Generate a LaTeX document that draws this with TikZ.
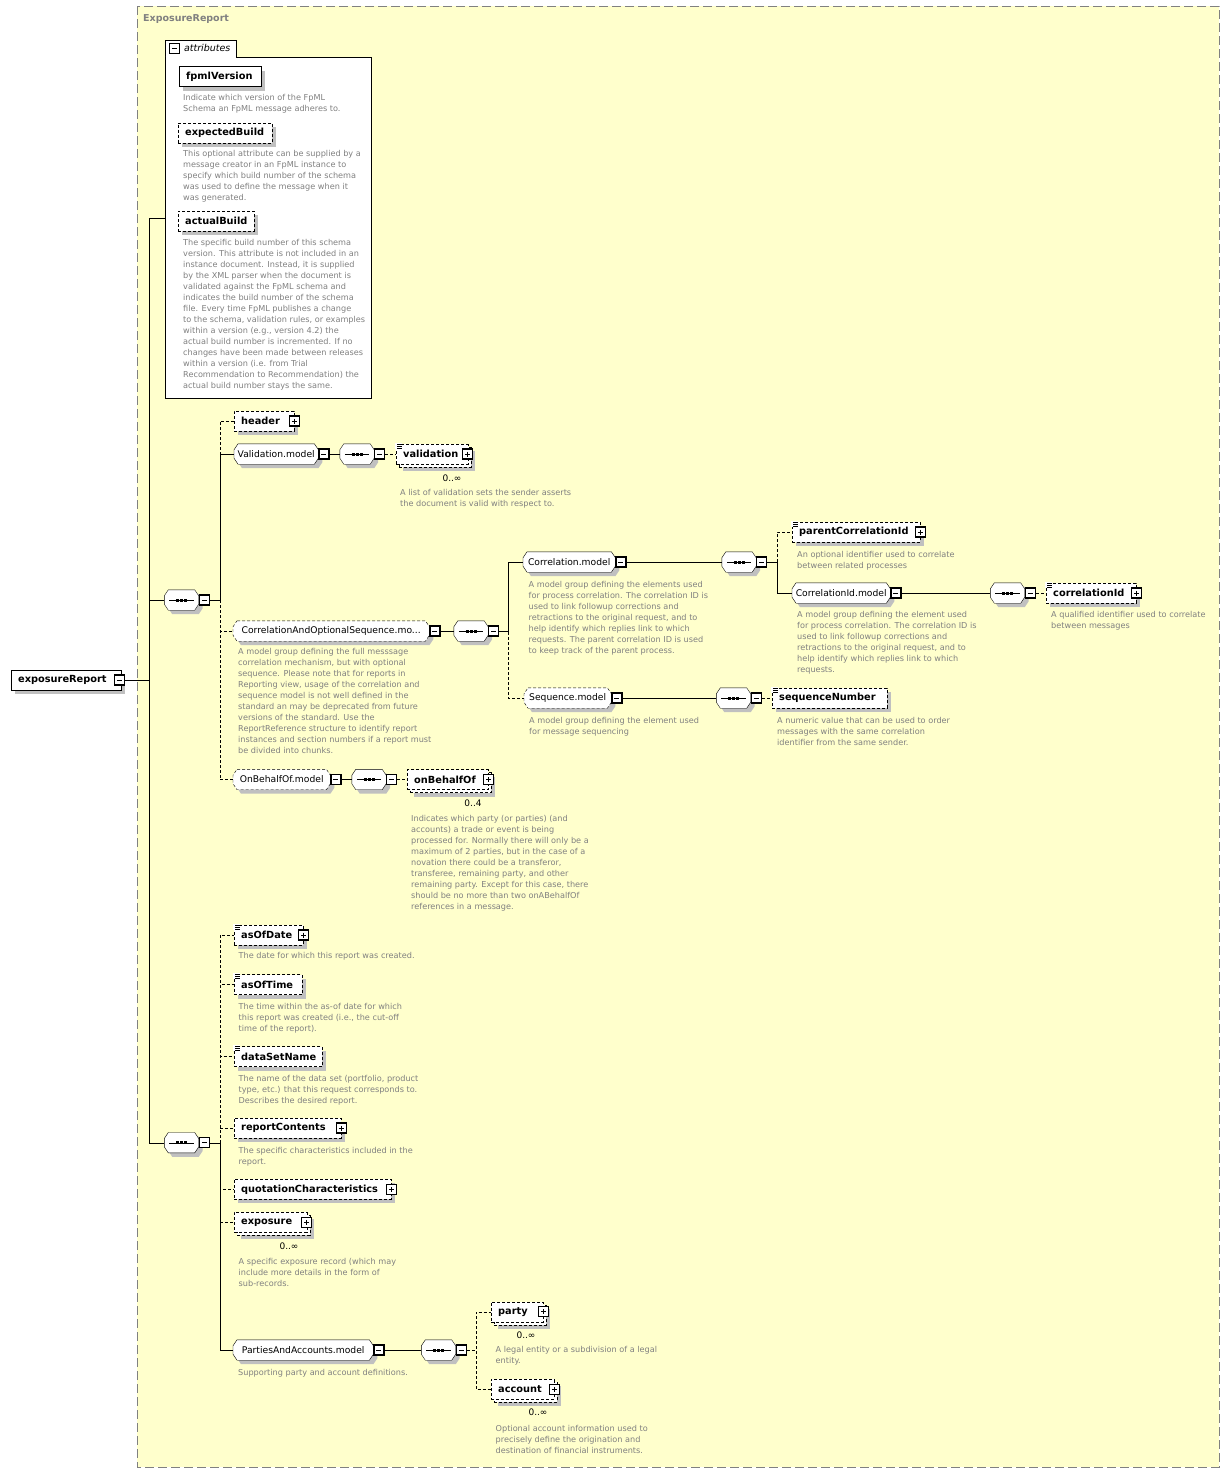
\documentclass[tikz,border=0pt]{standalone}
\usepackage{fontspec}
\setmainfont{DejaVu Sans}
\usepackage{tikz}
\usetikzlibrary{shadows,positioning}

\definecolor{bgyellow}{RGB}{255,255,204}
\definecolor{descgray}{RGB}{128,128,128}
\definecolor{shadowgray}{RGB}{192,192,192}

\pgfdeclarelayer{back}
\pgfdeclarelayer{bg}
\pgfsetlayers{back,bg,main}

\newcommand\descfont{\fontsize{8.15}{11}\selectfont}
\newcommand\lblfont{\fontsize{9.8}{12}\selectfont\bfseries}
\newcommand\grpfont{\fontsize{9.2}{12}\selectfont}

% chamfered outline round a model group or a sequence node
\newcommand\octopath[1]{([xshift=4pt]#1.north west) -- ([xshift=-4pt]#1.north east) -- ([yshift=-6pt]#1.north east) -- ([yshift=6pt]#1.south east) -- ([xshift=-4pt]#1.south east) -- ([xshift=4pt]#1.south west) -- ([yshift=6pt]#1.south west) -- ([yshift=-6pt]#1.north west) -- cycle}
\newcommand\octo[2][]{%
  \begin{pgfonlayer}{bg}
    \fill[shadowgray, transform canvas={xshift=4pt, yshift=-4pt}] \octopath{#2};
    \draw[fill=white, #1] \octopath{#2};
  \end{pgfonlayer}}
% the sequence mark
\newcommand\seqmark[1]{%
  \draw ([xshift=5pt]#1.west) -- ([xshift=-5pt]#1.east);
  \foreach \dx in {-4,0,4}
    \fill ([xshift=\dx pt-1.5pt, yshift=1.5pt]#1.center) rectangle ++(3,3);}
% small list icon in the top left corner of an element
\newcommand\listicon[1]{%
  \fill[white] ([xshift=-1pt,yshift=1pt]#1.north west) rectangle ++(7,6);
  \foreach \dy in {0.5,2.5,4.5}
    \draw[line width=.8pt] ([xshift=1pt,yshift=-\dy pt]#1.north west) -- ++(5,0);}

\tikzset{
  boxshadow/.style={general shadow={fill=shadowgray, shadow xshift=4pt, shadow yshift=-4pt}},
  box/.style={draw, fill=white, anchor=west, minimum height=20pt, inner xsep=7pt, inner ysep=0pt, align=left, font=\lblfont},
  elem/.style={box, boxshadow},
  optelem/.style={elem, dash pattern=on 3pt off 2pt},
  multielem/.style={box, dash pattern=on 3pt off 2pt,
    general shadow={fill=shadowgray, shadow xshift=7pt, shadow yshift=-7pt},
    general shadow={draw, fill=white, dash pattern=on 3pt off 2pt, shadow xshift=3pt, shadow yshift=-3pt}},
  grp/.style={anchor=west, minimum height=20pt, inner xsep=3pt, inner ysep=0pt, font=\grpfont},
  seqbox/.style={minimum width=34pt, minimum height=20pt, inner sep=0pt},
  btn/.style={draw, fill=white, line width=1.1pt, minimum size=10pt, inner sep=0pt},
  plusbtn/.style={btn, path picture={\draw[line width=.9pt] ([xshift=2.5pt]path picture bounding box.west) -- ([xshift=-2.5pt]path picture bounding box.east) ([yshift=-2.5pt]path picture bounding box.north) -- ([yshift=2.5pt]path picture bounding box.south);}},
  minusbtn/.style={btn, path picture={\draw[line width=.9pt] ([xshift=2.5pt]path picture bounding box.west) -- ([xshift=-2.5pt]path picture bounding box.east);}},
  descr/.style={anchor=north west, inner sep=0pt, align=left, font=\descfont, text=descgray},
  card/.style={font=\fontsize{9}{10}\selectfont, inner sep=0pt},
  optline/.style={dash pattern=on 3pt off 2pt},
}

\begin{document}
\begin{tikzpicture}[x=1pt, y=-1pt, line width=0.9pt]
	\useasboundingbox (0,0) rectangle (1230,1473);
	% frame of the type
	\begin{pgfonlayer}{back}
		\draw[descgray, dash pattern=on 9pt off 4pt, fill=bgyellow] (137,6) rectangle (1219,1467);
	\end{pgfonlayer}
	\node[anchor=west, inner sep=0pt, font=\fontsize{9.5}{11}\selectfont\bfseries, text=descgray] (title) at (143,19) {ExposureReport};

	% root element
	\node[elem, text width=96pt] (root) at (11,680) {exposureReport};
	\node[minusbtn] (rootb) at ([xshift=-2pt]root.east) {};

	% attributes
	\node[draw, fill=white, anchor=north west, minimum width=206pt, minimum height=341pt, inner sep=0pt] (attrbox) at (165,57) {};
	\node[draw, fill=white, anchor=south west, minimum width=71pt, minimum height=17pt, inner sep=0pt] (attrtab) at (attrbox.north west) {};
	\draw[white, line width=1.2pt] ([xshift=.6pt]attrtab.south west) -- ([xshift=-.6pt]attrtab.south east);
	\node[minusbtn, anchor=west, line width=.8pt] (attrb) at ([xshift=4pt]attrtab.west) {};
	\node[anchor=west, inner sep=0pt, font=\fontsize{9.5}{11}\selectfont\itshape] (attrlbl) at ([xshift=4pt]attrb.east) {attributes};

	\node[elem, text width=68pt] (fpmlversion) at (179,76.5) {fpmlVersion};
	\node[descr] (fpmldesc) at (183,94.5) {Indicate which version of the FpML\\Schema an FpML message adheres to.};
	\node[optelem, text width=80pt] (expbuild) at (178,132.7) {expectedBuild};
	\node[descr] (expbuilddesc) at (183,150.5) {This optional attribute can be supplied by a\\message creator in an FpML instance to\\specify which build number of the schema\\was used to define the message when it\\was generated.};
	\node[optelem, text width=62pt] (actbuild) at (178,221) {actualBuild};
	\node[descr] (actbuilddesc) at (183,239.5) {The specific build number of this schema\\version. This attribute is not included in an\\instance document. Instead, it is supplied\\by the XML parser when the document is\\validated against the FpML schema and\\indicates the build number of the schema\\file. Every time FpML publishes a change\\to the schema, validation rules, or examples\\within a version (e.g., version 4.2) the\\actual build number is incremented. If no\\changes have been made between releases\\within a version (i.e. from Trial\\Recommendation to Recommendation) the\\actual build number stays the same.};

	% first sequence
	\node[seqbox] (s1) at (181.5,600) {};
	\octo{s1} \seqmark{s1}
	\node[minusbtn, anchor=west] (s1b) at (s1.east) {};

	\node[optelem, text width=46pt] (header) at (234,421) {header};
	\node[plusbtn] (headerb) at (header.east) {};

	\node[grp, minimum width=84pt] (valm) at (234,454) {Validation.model};
	\octo{valm}
	\node[minusbtn, anchor=west] (valmb) at (valm.east) {};
	\node[seqbox] (sv) at (357,454) {};
	\octo{sv} \seqmark{sv}
	\node[minusbtn, anchor=west] (svb) at (sv.east) {};
	\node[multielem, text width=57.5pt] (validation) at (396,454) {validation};
	\node[plusbtn] (validationb) at (validation.east) {};
	\listicon{validation}
	\node[card] (validcard) at (452,478) {0..∞};
	\node[descr] (validdesc) at (400,489.5) {A list of validation sets the sender asserts\\the document is valid with respect to.};

	\node[grp, minimum width=196pt] (coseq) at (233,631) {CorrelationAndOptionalSequence.mo...};
	\octo[dash pattern=on 3pt off 2pt]{coseq}
	\node[minusbtn, anchor=west] (coseqb) at (coseq.east) {};
	\node[descr] (coseqdesc) at (238,648.5) {A model group defining the full messsage\\correlation mechanism, but with optional\\sequence. Please note that for reports in\\Reporting view, usage of the correlation and\\sequence model is not well defined in the\\standard an may be deprecated from future\\versions of the standard. Use the\\ReportReference structure to identify report\\instances and section numbers if a report must\\be divided into chunks.};
	\node[seqbox] (sc) at (471,631) {};
	\octo{sc} \seqmark{sc}
	\node[minusbtn, anchor=west] (scb) at (sc.east) {};

	% correlation
	\node[grp, minimum width=92pt] (corm) at (523,562) {Correlation.model};
	\octo{corm}
	\node[minusbtn, anchor=west] (cormb) at (corm.east) {};
	\node[descr] (cormdesc) at (528.5,581.5) {A model group defining the elements used\\for process correlation. The correlation ID is\\used to link followup corrections and\\retractions to the original request, and to\\help identify which replies link to which\\requests. The parent correlation ID is used\\to keep track of the parent process.};
	\node[seqbox] (scor) at (739,562) {};
	\octo{scor} \seqmark{scor}
	\node[minusbtn, anchor=west] (scorb) at (scor.east) {};
	\node[optelem, text width=114pt] (pcid) at (792,532) {parentCorrelationId};
	\node[plusbtn] (pcidb) at (pcid.east) {};
	\listicon{pcid}
	\node[descr] (pciddesc) at (797,551) {An optional identifier used to correlate\\between related processes};
	\node[grp, minimum width=98pt] (cidm) at (792,593) {CorrelationId.model};
	\octo{cidm}
	\node[minusbtn, anchor=west] (cidmb) at (cidm.east) {};
	\node[descr] (cidmdesc) at (797,611.5) {A model group defining the element used\\for process correlation. The correlation ID is\\used to link followup corrections and\\retractions to the original request, and to\\help identify which replies link to which\\requests.};
	\node[seqbox] (scid) at (1007.5,593) {};
	\octo{scid} \seqmark{scid}
	\node[minusbtn, anchor=west] (scidb) at (scid.east) {};
	\node[optelem, text width=76pt] (cid) at (1046,593) {correlationId};
	\node[plusbtn] (cidb) at (cid.east) {};
	\listicon{cid}
	\node[descr] (ciddesc) at (1051,611.5) {A qualified identifier used to correlate\\between messages};

	% sequence number
	\node[grp, minimum width=87pt] (seqm) at (524,698) {Sequence.model};
	\octo[dash pattern=on 3pt off 2pt]{seqm}
	\node[minusbtn, anchor=west] (seqmb) at (seqm.east) {};
	\node[descr] (seqmdesc) at (529,717.5) {A model group defining the element used\\for message sequencing};
	\node[seqbox] (ss) at (733.5,698) {};
	\octo{ss} \seqmark{ss}
	\node[minusbtn, anchor=west] (ssb) at (ss.east) {};
	\node[optelem, text width=101pt] (seqno) at (772,698) {sequenceNumber};
	\listicon{seqno}
	\node[descr] (seqnodesc) at (777,717.5) {A numeric value that can be used to order\\messages with the same correlation\\identifier from the same sender.};

	% on behalf of
	\node[grp, minimum width=97pt] (obom) at (233,779.5) {OnBehalfOf.model};
	\octo[dash pattern=on 3pt off 2pt]{obom}
	\node[minusbtn, anchor=west] (obomb) at (obom.east) {};
	\node[seqbox] (so) at (369,779.5) {};
	\octo{so} \seqmark{so}
	\node[minusbtn, anchor=west] (sob) at (so.east) {};
	\node[multielem, text width=67pt] (obo) at (407,779.5) {onBehalfOf};
	\node[plusbtn] (obob) at (obo.east) {};
	\node[card] (obocard) at (473,803) {0..4};
	\node[descr] (obodesc) at (411,815) {Indicates which party (or parties) (and\\accounts) a trade or event is being\\processed for. Normally there will only be a\\maximum of 2 parties, but in the case of a\\novation there could be a transferor,\\transferee, remaining party, and other\\remaining party. Except for this case, there\\should be no more than two onABehalfOf\\references in a message.};

	% second sequence
	\node[seqbox] (s2) at (181.5,1142.7) {};
	\octo{s2} \seqmark{s2}
	\node[minusbtn, anchor=west] (s2b) at (s2.east) {};

	\node[optelem, text width=55pt] (asofdate) at (234,935) {asOfDate};
	\node[plusbtn] (asofdateb) at (asofdate.east) {};
	\listicon{asofdate}
	\node[descr] (asofdatedesc) at (238.5,952.5) {The date for which this report was created.};
	\node[optelem, text width=54pt] (asoftime) at (234,984.5) {asOfTime};
	\listicon{asoftime}
	\node[descr] (asoftimedesc) at (238.5,1003) {The time within the as-of date for which\\this report was created (i.e., the cut-off\\time of the report).};
	\node[optelem, text width=74pt] (datasetname) at (234,1056.5) {dataSetName};
	\listicon{datasetname}
	\node[descr] (datasetnamedesc) at (238.5,1075) {The name of the data set (portfolio, product\\type, etc.) that this request corresponds to.\\Describes the desired report.};
	\node[optelem, text width=93pt] (reportcontents) at (234,1128) {reportContents};
	\node[plusbtn] (reportcontentsb) at (reportcontents.east) {};
	\node[descr] (reportcontentsdesc) at (238.5,1147) {The specific characteristics included in the\\report.};
	\node[optelem, text width=143pt] (quotchar) at (234,1189.3) {quotationCharacteristics};
	\node[plusbtn] (quotcharb) at (quotchar.east) {};
	\node[multielem, text width=58.5pt] (exposure) at (234,1222.3) {exposure};
	\node[plusbtn] (exposureb) at (exposure.east) {};
	\node[card] (exposurecard) at (289,1246.5) {0..∞};
	\node[descr] (exposuredesc) at (238.5,1258.5) {A specific exposure record (which may\\include more details in the form of\\sub-records.};

	% parties and accounts
	\node[grp, minimum width=140pt] (pam) at (233,1350) {PartiesAndAccounts.model};
	\octo{pam}
	\node[minusbtn, anchor=west] (pamb) at (pam.east) {};
	\node[descr] (pamdesc) at (238,1369.5) {Supporting party and account definitions.};
	\node[seqbox] (sp) at (438.5,1350) {};
	\octo{sp} \seqmark{sp}
	\node[minusbtn, anchor=west] (spb) at (sp.east) {};
	\node[multielem, text width=38pt] (party) at (491,1311.7) {party};
	\node[plusbtn] (partyb) at (party.east) {};
	\node[card] (partycard) at (526,1335) {0..∞};
	\node[descr] (partydesc) at (495.5,1346.5) {A legal entity or a subdivision of a legal\\entity.};
	\node[multielem, text width=49pt] (account) at (491,1389.3) {account};
	\node[plusbtn] (accountb) at (account.east) {};
	\node[card] (accountcard) at (538,1412.7) {0..∞};
	\node[descr] (accountdesc) at (495.5,1425) {Optional account information used to\\precisely define the origination and\\destination of financial instruments.};

	% connectors
	\draw (rootb.east) -- ++(24.5,0) |- ([yshift=9.5pt]attrbox.west);
	\draw (rootb.east) -- ++(24.5,0) |- (s1.west);
	\draw (rootb.east) -- ++(24.5,0) |- (s2.west);

	\draw[optline] (s1b.east) -- ++(10,0) |- (header.west);
	\draw[optline] (s1b.east) -- ++(10,0) |- (coseq.west);
	\draw[optline] (s1b.east) -- ++(10,0) |- (obom.west);
	\draw (s1b.east) -- ++(10,0) |- (valm.west);
	\draw (valmb.east) -- (sv.west);
	\draw[optline] (svb.east) -- (validation.west);
	\draw (coseqb.east) -- (sc.west);
	\draw[optline] (scb.east) -- ++(9,0) |- (seqm.west);
	\draw (scb.east) -- ++(9,0) |- (corm.west);
	\draw (cormb.east) -- (scor.west);
	\draw[optline] (scorb.east) -- ++(10,0) |- (pcid.west);
	\draw (scorb.east) -- ++(10,0) |- (cidm.west);
	\draw (cidmb.east) -- (scid.west);
	\draw[optline] (scidb.east) -- (cid.west);
	\draw (seqmb.east) -- (ss.west);
	\draw[optline] (ssb.east) -- (seqno.west);
	\draw (obomb.east) -- (so.west);
	\draw[optline] (sob.east) -- (obo.west);

	\foreach \c in {asofdate,asoftime,datasetname,reportcontents,quotchar,exposure}
		\draw[optline] (s2b.east) -- ++(10,0) |- (\c.west);
	\draw (s2b.east) -- ++(10,0) |- (pam.west);
	\draw (pamb.east) -- (sp.west);
	\draw[optline] (spb.east) -- ++(9,0) |- (party.west);
	\draw[optline] (spb.east) -- ++(9,0) |- (account.west);
\end{tikzpicture}
\end{document}
